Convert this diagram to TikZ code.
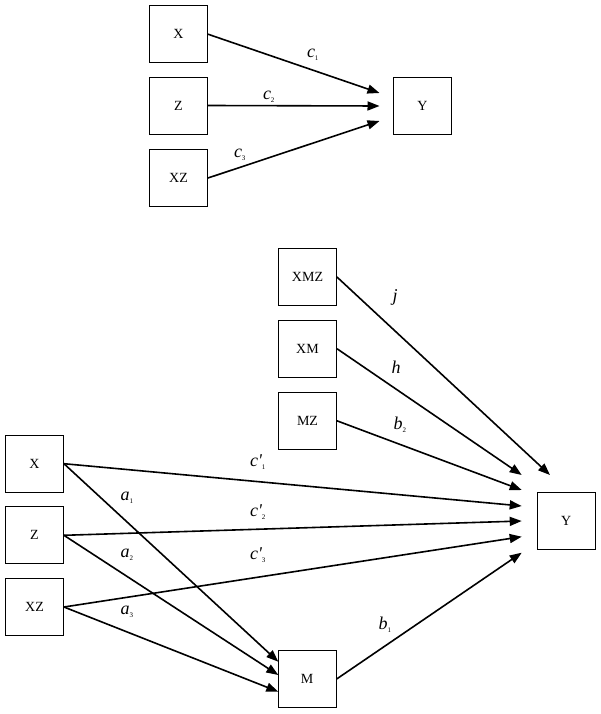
\documentclass[tikz,border=0pt]{standalone}
\usepackage{fontspec}
\setmainfont{Liberation Serif}
\usetikzlibrary{arrows.meta}
\begin{document}
\begin{tikzpicture}[x=1pt,y=-1pt,
  box/.style={draw,line width=0.9pt,minimum width=58pt,minimum height=57pt,inner sep=0pt,font=\fontsize{14}{16}\selectfont},
  arr/.style={line width=1.6pt,-{Triangle[length=12pt,width=9pt]}},
  lab/.style={font=\fontsize{18}{20}\selectfont\itshape,inner sep=0pt}]
\useasboundingbox (0,0) rectangle (601,714);
% top diagram
\node[box] (tX) at (178.5,34.2) {X};
\node[box] (tZ) at (178.5,105.5) {Z};
\node[box] (tXZ) at (178.5,178) {XZ};
\node[box] (tY) at (422.5,106) {Y};
\coordinate (t1) at (379.5,93);
\coordinate (t2) at (379.5,106);
\coordinate (t3) at (379.5,121);
\draw[arr] (tX.east) -- (t1);
\draw[arr] (tZ.east) -- (t2);
\draw[arr] (tXZ.east) -- (t3);
\node[lab] (lc1) at (313,55) {c\textsubscript{\upshape\scriptsize 1}};
\node[lab] (lc2) at (269,97) {c\textsubscript{\upshape\scriptsize 2}};
\node[lab] (lc3) at (240,155) {c\textsubscript{\upshape\scriptsize 3}};
% bottom diagram
\node[box] (XMZ) at (307.5,277) {XMZ};
\node[box] (XM) at (307.5,348.7) {XM};
\node[box] (MZ) at (307.5,420.8) {MZ};
\node[box] (X) at (34.5,463.7) {X};
\node[box] (Z) at (34.5,535.3) {Z};
\node[box] (XZ) at (34.5,607) {XZ};
\node[box] (M) at (307.2,679) {M};
\node[box] (Y) at (566.2,521) {Y};
\coordinate (y0) at (550,475);
\coordinate (y1) at (521.7,475);
\coordinate (y2) at (521.7,490);
\coordinate (y3) at (521.7,506);
\coordinate (y4) at (521.7,521);
\coordinate (y5) at (521.7,536.7);
\coordinate (y6) at (521.7,552.7);
\coordinate (m1) at (278.3,661.7);
\coordinate (m2) at (278.3,675);
\coordinate (m3) at (278.3,691.7);
\draw[arr] (XMZ.east) -- (y0);
\draw[arr] (XM.east) -- (y1);
\draw[arr] (MZ.east) -- (y2);
\draw[arr] (X.east) -- (y3);
\draw[arr] (Z.east) -- (y4);
\draw[arr] (XZ.east) -- (y5);
\draw[arr] (M.east) -- (y6);
\draw[arr] (X.east) -- (m1);
\draw[arr] (Z.east) -- (m2);
\draw[arr] (XZ.east) -- (m3);
\node[lab] (lj) at (395,297) {j};
\node[lab] (lh) at (396,367) {h};
\node[lab] (lb2) at (400,425) {b\textsubscript{\upshape\scriptsize 2}};
\node[lab] (lcp1) at (258,462) {c\textquotesingle\textsubscript{\upshape\scriptsize 1}};
\node[lab] (lcp2) at (258,512) {c\textquotesingle\textsubscript{\upshape\scriptsize 2}};
\node[lab] (lcp3) at (258,555) {c\textquotesingle\textsubscript{\upshape\scriptsize 3}};
\node[lab] (la1) at (127,498) {a\textsubscript{\upshape\scriptsize 1}};
\node[lab] (la2) at (127,555) {a\textsubscript{\upshape\scriptsize 2}};
\node[lab] (la3) at (127,612) {a\textsubscript{\upshape\scriptsize 3}};
\node[lab] (lb1) at (385,625) {b\textsubscript{\upshape\scriptsize 1}};
\end{tikzpicture}
\end{document}
